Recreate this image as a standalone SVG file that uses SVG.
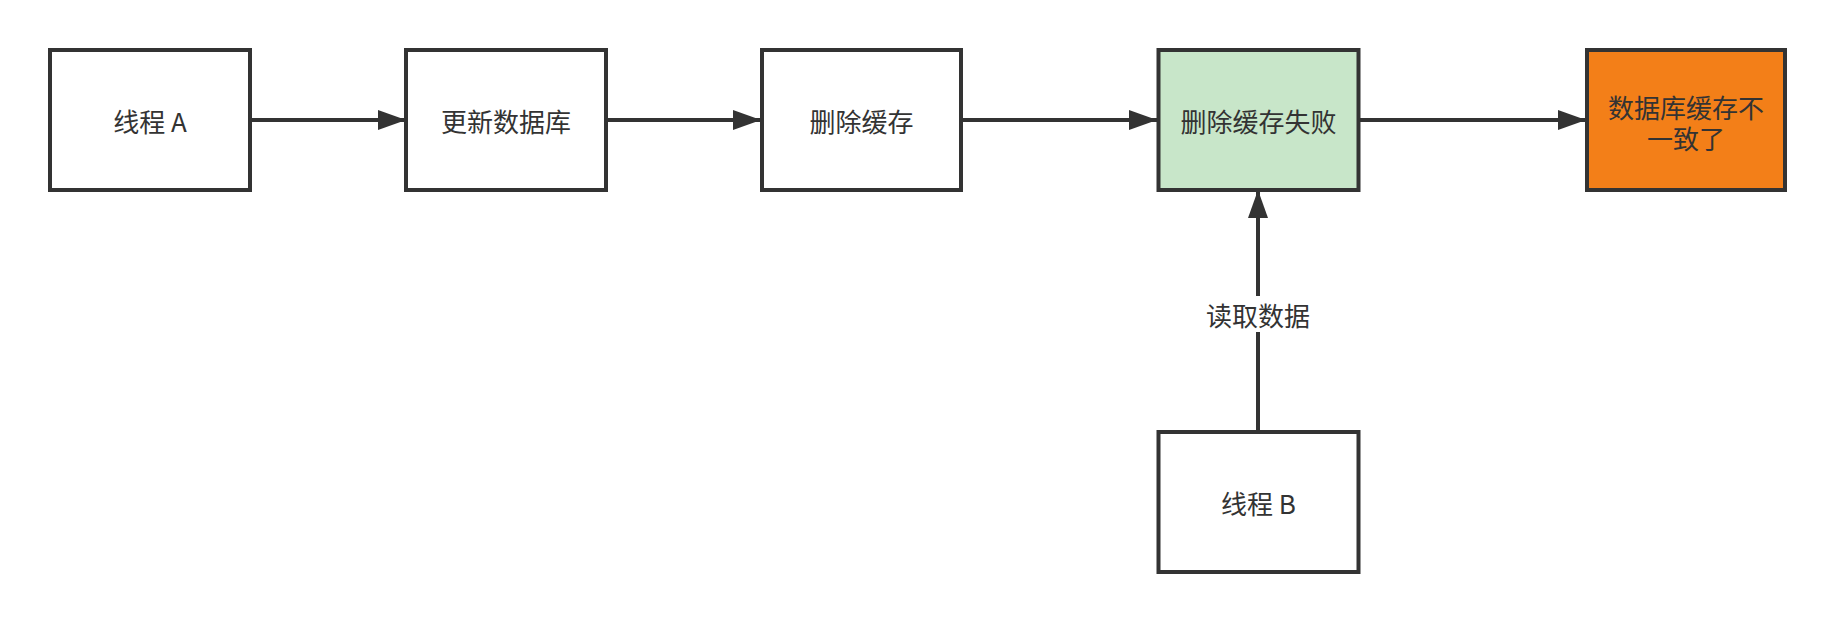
<svg xmlns="http://www.w3.org/2000/svg" width="1835" height="622" viewBox="0 0 1835 622">
<style>
.box{stroke:#333333;stroke-width:4;}
.t{font-family:"Noto Sans CJK SC","Noto Sans",sans-serif;font-size:26px;fill:#333333;text-anchor:middle;dominant-baseline:central;}
.c{stroke:#333333;stroke-width:4;fill:none;}
</style>
<defs>
<marker id="ah" viewBox="0 0 28 20" refX="28" refY="10" markerWidth="28" markerHeight="20" markerUnits="userSpaceOnUse" orient="auto">
<path d="M0,0 L28,10 L0,20 Z" fill="#333333"/>
</marker>
</defs>
<rect width="1835" height="622" fill="#ffffff"/>
<g id="connectors">
<path class="c" d="M252,120 L406,120" marker-end="url(#ah)"/>
<path class="c" d="M608,120 L761,120" marker-end="url(#ah)"/>
<path class="c" d="M963,120 L1157,120" marker-end="url(#ah)"/>
<path class="c" d="M1360,120 L1586,120" marker-end="url(#ah)"/>
<path class="c" d="M1258,430 L1258,190" marker-end="url(#ah)"/>
<rect x="1200" y="296" width="116" height="36" fill="#ffffff"/>
<text class="t" x="1258" y="314">读取数据</text>
</g>
<g id="threadA">
<rect class="box" x="50" y="50" width="200" height="140" fill="#ffffff"/>
<text class="t" x="150" y="120">线程 A</text>
</g>
<g id="updateDb">
<rect class="box" x="406" y="50" width="200" height="140" fill="#ffffff"/>
<text class="t" x="506" y="120">更新数据库</text>
</g>
<g id="deleteCache">
<rect class="box" x="762" y="50" width="199" height="140" fill="#ffffff"/>
<text class="t" x="861.5" y="120">删除缓存</text>
</g>
<g id="deleteFail">
<rect class="box" x="1158.5" y="50" width="200" height="140" fill="#c8e6c9"/>
<text class="t" x="1258.5" y="120">删除缓存失败</text>
</g>
<g id="inconsistent">
<rect class="box" x="1587" y="50" width="198" height="140" fill="#f37f18"/>
<text class="t"><tspan x="1686" y="105.5">数据库缓存不</tspan><tspan x="1686" y="137">一致了</tspan></text>
</g>
<g id="threadB">
<rect class="box" x="1158.5" y="432" width="200" height="140" fill="#ffffff"/>
<text class="t" x="1258.5" y="502">线程 B</text>
</g>
</svg>
